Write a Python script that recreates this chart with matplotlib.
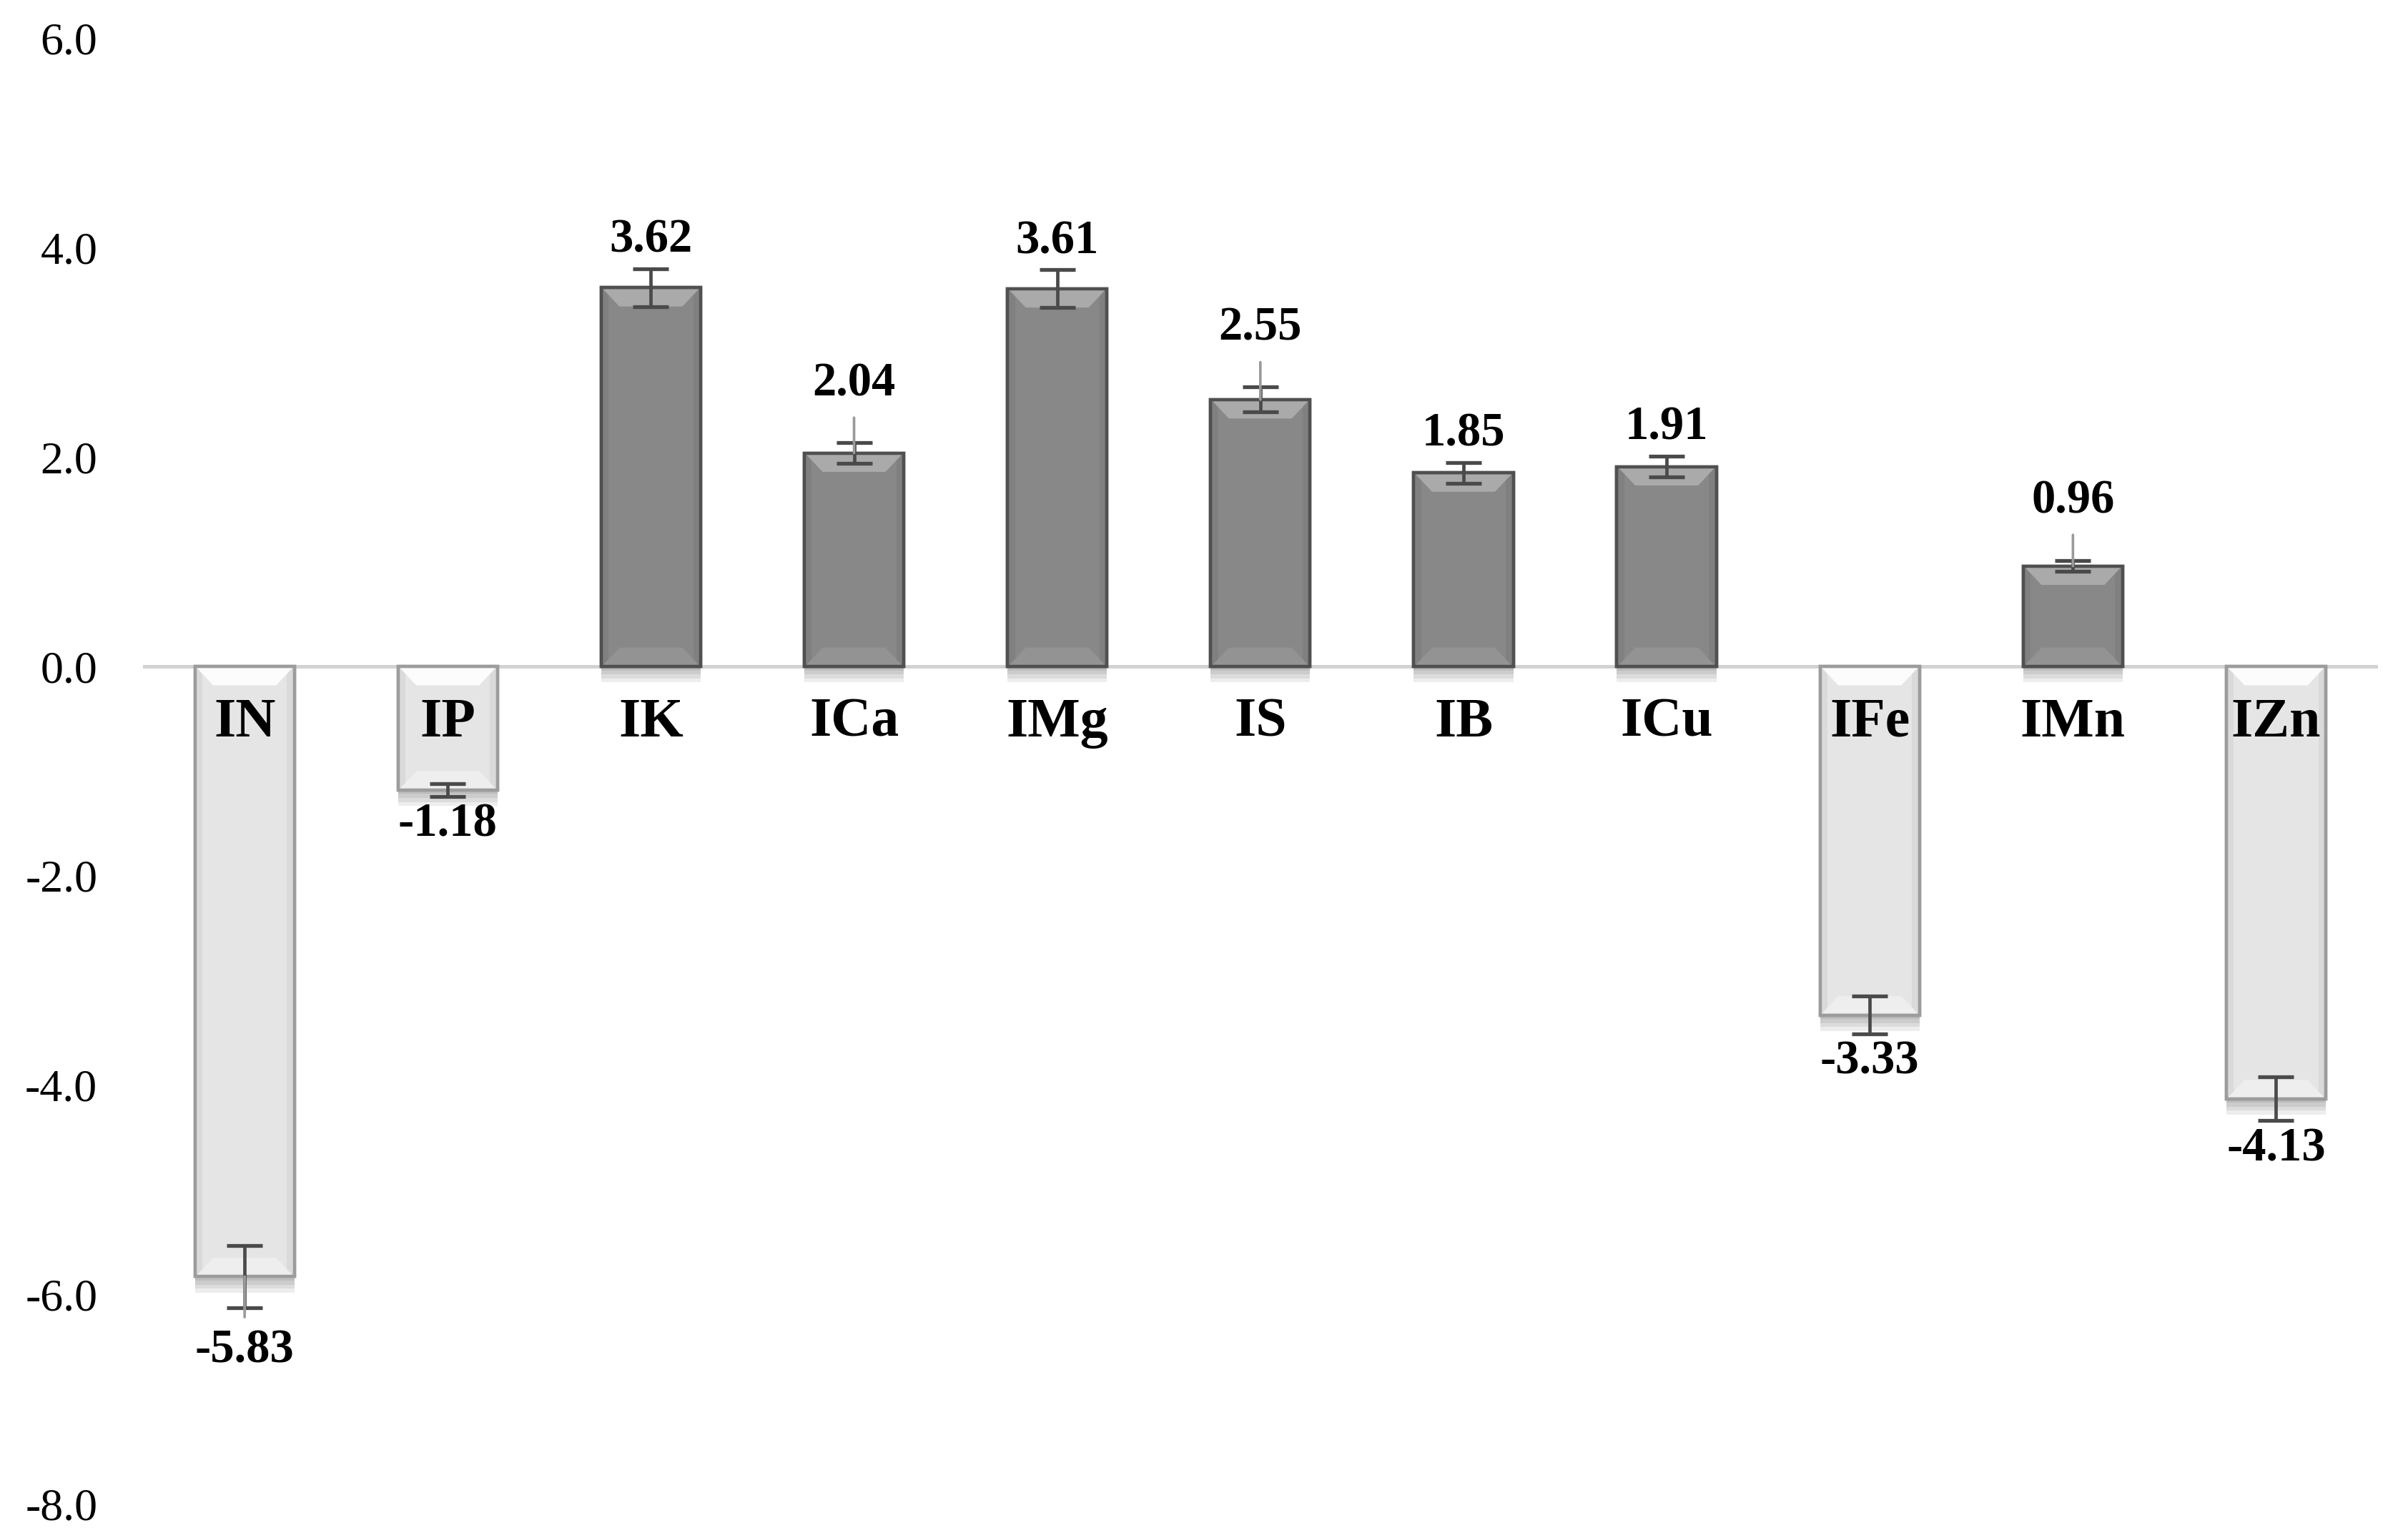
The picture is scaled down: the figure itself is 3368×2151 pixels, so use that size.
import matplotlib.pyplot as plt
from matplotlib.patches import Polygon
import matplotlib.patheffects as pe
import numpy as np

# --- dados ---
categories = ['IN', 'IP', 'IK', 'ICa', 'IMg', 'IS', 'IB', 'ICu', 'IFe', 'IMn', 'IZn']
values = [-5.83, -1.18, 3.62, 2.04, 3.61, 2.55, 1.85, 1.91, -3.33, 0.96, -4.13]
errors = [0.30, 0.06, 0.18, 0.10, 0.18, 0.12, 0.10, 0.10, 0.18, 0.05, 0.21]
yticks = [6.0, 4.0, 2.0, 0.0, -2.0, -4.0, -6.0, -8.0]

# rótulos que foram arrastados no Excel (com linha de chamada)
moved = {'ICa': 0.56, 'IS': 0.56, 'IMn': 0.57, 'IN': 0.41}

plt.rcParams['font.family'] = ['Liberation Serif', 'DejaVu Serif']

fig = plt.figure(figsize=(16.84, 10.755), dpi=200)
ax = fig.add_axes([0.0594, 0.0223, 0.928, 0.9526])

x = np.arange(len(categories))
vals = np.array(values)
pos = vals >= 0
face = ['#888888' if p else '#e5e5e5' for p in pos]
edge = ['#505050' if p else '#9c9c9c' for p in pos]

shadow = [pe.SimplePatchShadow(offset=(0, -d), shadow_rgbFace='k', alpha=0.07) for d in (2, 4, 6, 8)]
bars = ax.bar(x, vals, width=0.49, color=face, edgecolor=edge, linewidth=1.6, zorder=3)
for b in bars:
    b.set_path_effects(shadow + [pe.Normal()])

# --- efeito de chanfro (bevel) ---
bx, by = 0.09, 0.18
for b, p in zip(bars, pos):
    x0, w = b.get_x(), b.get_width()
    y_a, y_b = b.get_y(), b.get_y() + b.get_height()
    yb, yt = min(y_a, y_b), max(y_a, y_b)
    top_c = '#aaaaaa' if p else '#fcfcfc'
    bot_c = '#939393' if p else '#eeeeee'
    side_c = '#808080' if p else '#dadada'
    lw_in = 0.01
    sw = bx * 0.3
    ax.add_patch(Polygon([(x0 + lw_in, yb), (x0 + lw_in + sw, yb), (x0 + lw_in + sw, yt), (x0 + lw_in, yt)],
                         closed=True, facecolor=side_c, edgecolor='none', zorder=3.5))
    ax.add_patch(Polygon([(x0 + w - lw_in, yb), (x0 + w - lw_in - sw, yb), (x0 + w - lw_in - sw, yt), (x0 + w - lw_in, yt)],
                         closed=True, facecolor=side_c, edgecolor='none', zorder=3.5))
    ax.add_patch(Polygon([(x0 + lw_in, yt - 0.015), (x0 + w - lw_in, yt - 0.015), (x0 + w - bx, yt - by), (x0 + bx, yt - by)],
                         closed=True, facecolor=top_c, edgecolor='none', zorder=3.6))
    ax.add_patch(Polygon([(x0 + lw_in, yb + 0.015), (x0 + w - lw_in, yb + 0.015), (x0 + w - bx, yb + by), (x0 + bx, yb + by)],
                         closed=True, facecolor=bot_c, edgecolor='none', zorder=3.6))
    ax.add_patch(Polygon([(x0, yb), (x0 + w, yb), (x0 + w, yt), (x0, yt)], closed=True,
                         facecolor='none', edgecolor=b.get_edgecolor(), linewidth=1.6, zorder=3.7))

ax.errorbar(x, vals, yerr=errors, fmt='none', ecolor='#4a4a4a', elinewidth=1.7,
            capsize=9, capthick=1.9, zorder=5)

# --- rótulos de valor ---
for i, (cat, v, e) in enumerate(zip(categories, values, errors)):
    s = 1 if v >= 0 else -1
    pad = moved.get(cat, 0.27)
    ty = v + s * (e + pad)
    if cat in moved:
        ax.annotate(f'{v:.2f}', xy=(i, v), xytext=(i, ty), textcoords='data',
                    ha='center', va='center', fontsize=24, fontweight='bold', zorder=6,
                    arrowprops=dict(arrowstyle='-', color='#9a9a9a', lw=1.3, shrinkA=4, shrinkB=0))
    else:
        ax.text(i, ty, f'{v:.2f}', ha='center', va='center', fontsize=24, fontweight='bold', zorder=6)
    # nome da categoria logo abaixo do eixo zero
    ax.text(i, -0.54, cat, ha='center', va='center', fontsize=28, fontweight='bold', zorder=6)

# --- eixos ---
ax.axhline(0, color='#d2d2d2', lw=1.8, zorder=2)
ax.set_xlim(-0.5, len(categories) - 0.5)
ax.set_ylim(-8, 6)
ax.set_yticks(yticks)
ax.set_yticklabels([f'{t:.1f}' for t in yticks], fontsize=23)
ax.set_xticks([])
ax.tick_params(axis='y', length=0, pad=23)
for sp in ax.spines.values():
    sp.set_visible(False)

fig.savefig('out.png', dpi=200)
